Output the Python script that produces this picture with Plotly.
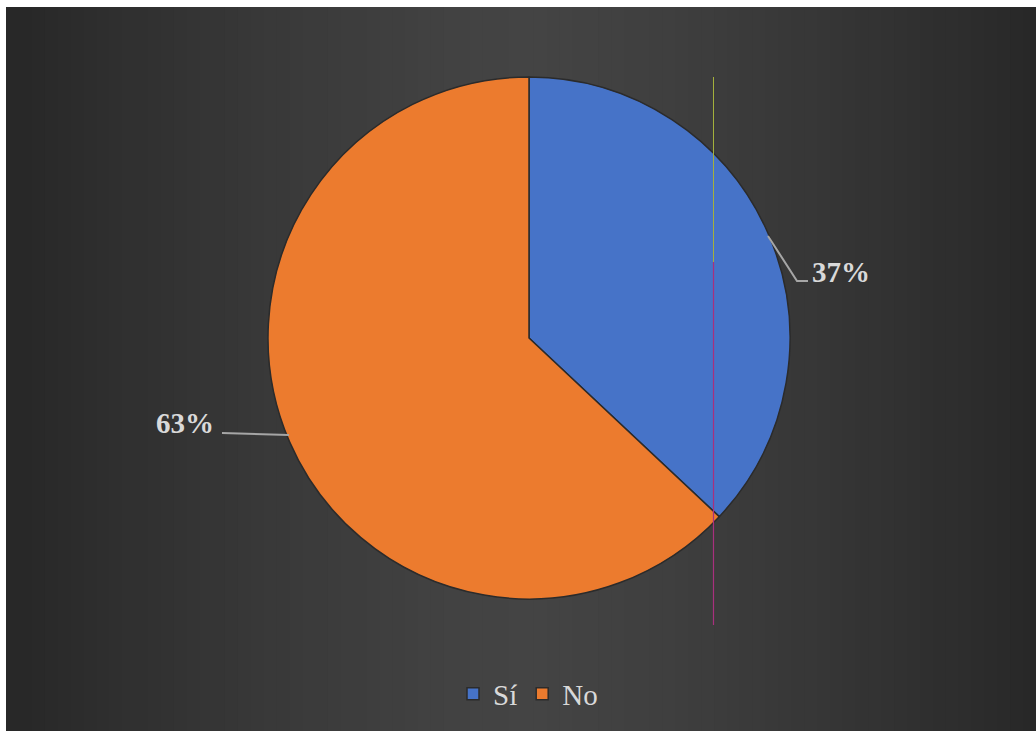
import plotly.graph_objects as go

# ---- data ----
categories = ["Sí", "No"]
values = [37, 63]
colors = ["#4673C8", "#EC7B2E"]

W, H = 1036, 731

def px(x):
    return x / W

def py(y):
    return 1 - y / H

total = sum(values)
pcts = [f"{round(v * 100 / total)}%" for v in values]

fig = go.Figure()
fig.add_trace(go.Pie(
    labels=categories,
    values=values,
    sort=False,
    direction="clockwise",
    rotation=0,
    textinfo="none",
    hoverinfo="label+percent",
    marker=dict(colors=colors, line=dict(color="#2b2b2b", width=1.5)),
    domain=dict(x=[px(529 - 261), px(529 + 261)], y=[py(338 + 261), py(338 - 261)]),
))

shapes = []
# background horizontal gradient (vertical stripes)
n = 80
cx = 525.0
x0 = 6.0
sw = (W - x0) / n
def lerp(a, b, t):
    return int(round(a + (b - a) * t))
for i in range(n):
    xa = x0 + i * sw
    xb = xa + sw + 2.0
    xm = xa + sw / 2
    t = min(1.0, abs(xm - cx) / 520.0)
    t = t ** 1.3
    c = lerp(0x44, 0x27, t)
    col = f"rgb({c},{c},{c})"
    shapes.append(dict(type="rect", xref="paper", yref="paper", layer="below",
                       x0=px(xa), x1=px(min(xb, W)), y0=0, y1=py(7),
                       fillcolor=col, line=dict(width=0)))

# leader lines
lead = "#a6a6a6"
shapes.append(dict(type="path", xref="paper", yref="paper", layer="above",
                   path=f"M{px(768)},{py(236)} L{px(797)},{py(281)} L{px(808)},{py(281)}",
                   line=dict(color=lead, width=2)))
shapes.append(dict(type="path", xref="paper", yref="paper", layer="above",
                   path=f"M{px(222)},{py(433)} L{px(289)},{py(435)}",
                   line=dict(color=lead, width=2)))
# thin vertical artifact line
shapes.append(dict(type="line", xref="paper", yref="paper", layer="above",
                   x0=px(713.5), x1=px(713.5), y0=py(77), y1=py(262),
                   line=dict(color="#a4b03c", width=1)))
shapes.append(dict(type="line", xref="paper", yref="paper", layer="above",
                   x0=px(713.5), x1=px(713.5), y0=py(262), y1=py(625),
                   line=dict(color="#a8307e", width=1.2)))

lab_font = dict(family="Liberation Serif, Times New Roman, serif", size=29, color="#d9d9d9")
annotations = [
    dict(text=f"<b>{pcts[0]}</b>", x=px(841), y=py(272), xref="paper", yref="paper",
         xanchor="center", yanchor="middle", showarrow=False, font=lab_font),
    dict(text=f"<b>{pcts[1]}</b>", x=px(185), y=py(423), xref="paper", yref="paper",
         xanchor="center", yanchor="middle", showarrow=False, font=lab_font),
]

fig.update_layout(
    width=W, height=H,
    margin=dict(l=0, r=0, t=0, b=0),
    paper_bgcolor="white",
    plot_bgcolor="white",
    showlegend=True,
    legend=dict(orientation="h", x=px(528), xanchor="center", y=py(694), yanchor="middle",
                font=dict(family="Liberation Serif, Times New Roman, serif", size=29, color="#d9d9d9"),
                bgcolor="rgba(0,0,0,0)", itemwidth=30),
    shapes=shapes,
    annotations=annotations,
)

fig.write_html("out.html", config={"displayModeBar": False},
               post_script="document.body.style.margin='0';document.body.style.overflow='hidden';")
